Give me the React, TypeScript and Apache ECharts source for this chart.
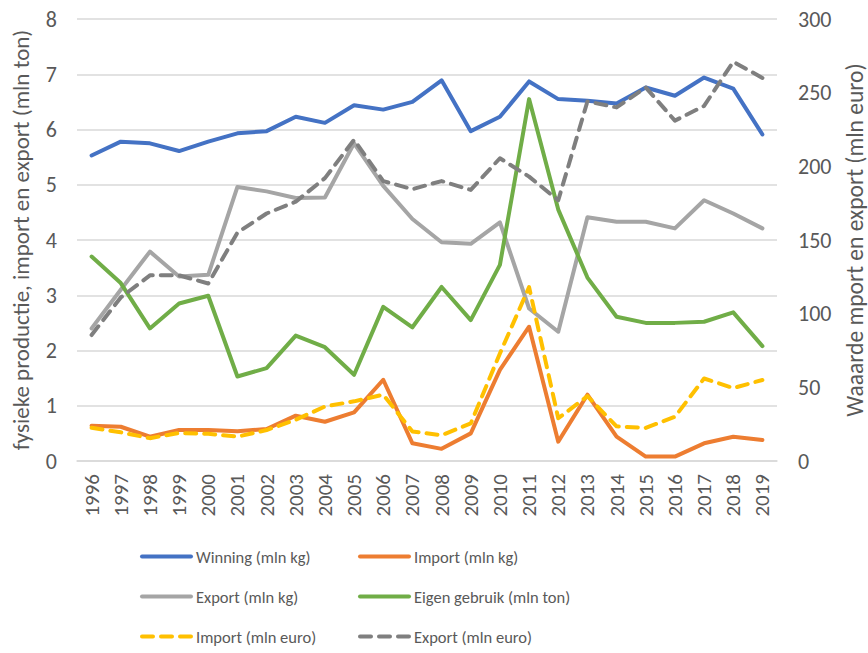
import React, { useEffect, useRef } from "react";
import * as echarts from "echarts";

const years = ["1996","1997","1998","1999","2000","2001","2002","2003","2004","2005","2006","2007","2008","2009","2010","2011","2012","2013","2014","2015","2016","2017","2018","2019"];
const winningKg = [5.53,5.78,5.75,5.61,5.78,5.93,5.97,6.23,6.12,6.44,6.36,6.5,6.89,5.97,6.23,6.87,6.55,6.52,6.47,6.76,6.61,6.94,6.74,5.91];
const importKg = [0.64,0.62,0.44,0.56,0.56,0.54,0.58,0.82,0.71,0.88,1.47,0.32,0.22,0.5,1.65,2.43,0.35,1.2,0.44,0.08,0.08,0.32,0.44,0.38];
const exportKg = [2.4,3.1,3.79,3.34,3.37,4.96,4.88,4.76,4.77,5.75,4.98,4.38,3.96,3.93,4.32,2.76,2.34,4.41,4.33,4.33,4.21,4.72,4.48,4.21];
const eigenGebruik = [3.7,3.22,2.4,2.85,2.99,1.53,1.68,2.27,2.06,1.56,2.79,2.42,3.15,2.55,3.55,6.55,4.55,3.32,2.61,2.5,2.5,2.52,2.69,2.08];
const importEuro = [22.5,19.5,15.5,19,18.5,16.5,21,28,37,40.5,45,20,17.5,25.5,73,118,29,44,23.5,22.5,30,56,49.5,55];
const exportEuro = [85.5,111,126,126,120.5,155,168,176,192,218,190,184.5,190,184,205.5,193,177,244,240,253.5,231,241,271,260];

const FONT = "Carlito, 'Liberation Sans', sans-serif";
const TXT = "#595959";

export default function App() {
  const ref = useRef<HTMLDivElement>(null);
  useEffect(() => {
    if (!ref.current) return;
    const chart = echarts.init(ref.current, undefined, { renderer: "svg" });
    const solid = (name: string, data: number[], color: string, yIdx: number) => ({
      name, type: "line", data, yAxisIndex: yIdx, symbol: "none", color,
      lineStyle: { color, width: 4, cap: "round", join: "round" },
    });
    const dashed = (name: string, data: number[], color: string, yIdx: number) => ({
      name, type: "line", data, yAxisIndex: yIdx, symbol: "none", color,
      lineStyle: { color, width: 4, type: [11, 8], cap: "round", join: "round" },
    });
    const legendText = { fontFamily: FONT, fontSize: 16.5, color: TXT };
    const legendBase = {
      orient: "vertical", top: 548, padding: 0, itemWidth: 49, itemHeight: 20, itemGap: 23,
      itemStyle: { opacity: 0 }, lineStyle: { width: 4, cap: "round" }, textStyle: legendText,
    };
    chart.setOption({
      animation: false,
      backgroundColor: "#ffffff",
      textStyle: { fontFamily: FONT },
      grid: { left: 77, right: 91, top: 19, bottom: 192, containLabel: false, outerBoundsMode: "none" },
      legend: [
        { ...legendBase, left: 140, data: ["Winning (mln kg)", "Export (mln kg)", "Import (mln euro)"] },
        { ...legendBase, left: 358, data: ["Import (mln kg)", "Eigen gebruik (mln ton)", "Export (mln euro)"] },
      ],
      xAxis: {
        type: "category", data: years, boundaryGap: true,
        axisLine: { lineStyle: { color: "#D9D9D9", width: 1.5 } },
        axisTick: { show: false },
        axisLabel: { rotate: 90, color: TXT, fontSize: 21, fontFamily: FONT, margin: 13 },
      },
      yAxis: [
        {
          type: "value", min: 0, max: 8, interval: 1,
          name: "fysieke productie, import en export (mln ton)", nameLocation: "middle", nameGap: 45, nameRotate: 90,
          nameTextStyle: { color: TXT, fontSize: 23, fontFamily: FONT },
          axisLabel: { color: TXT, fontSize: 22, fontFamily: FONT, margin: 20 },
          axisLine: { show: false }, axisTick: { show: false },
          splitLine: { lineStyle: { color: "#D9D9D9", width: 1.5 } },
        },
        {
          type: "value", min: 0, max: 300, interval: 50, position: "right",
          name: "Waaarde mport en export (mln euro)", nameLocation: "middle", nameGap: 66, nameRotate: 90,
          nameTextStyle: { color: TXT, fontSize: 23.5, fontFamily: FONT },
          axisLabel: { color: TXT, fontSize: 22, fontFamily: FONT, margin: 21 },
          axisLine: { show: false }, axisTick: { show: false },
          splitLine: { show: false },
        },
      ],
      series: [
        solid("Winning (mln kg)", winningKg, "#4472C4", 0),
        solid("Import (mln kg)", importKg, "#ED7D31", 0),
        solid("Export (mln kg)", exportKg, "#A5A5A5", 0),
        solid("Eigen gebruik (mln ton)", eigenGebruik, "#70AD47", 0),
        dashed("Import (mln euro)", importEuro, "#FFC000", 1),
        dashed("Export (mln euro)", exportEuro, "#7F7F7F", 1),
      ],
    });
    return () => chart.dispose();
  }, []);
  return <div ref={ref} style={{ position: "fixed", left: 0, top: 0, width: 868, height: 653 }} />;
}
